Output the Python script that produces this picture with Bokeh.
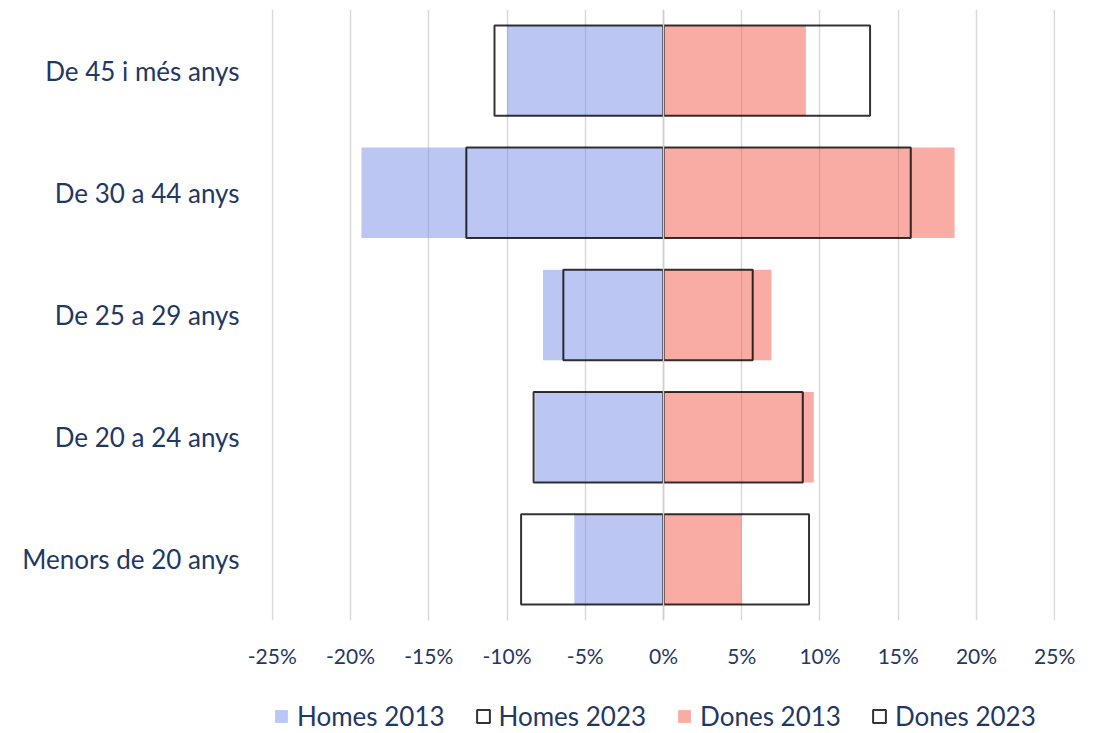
from bokeh.plotting import figure
from bokeh.models import (FactorRange, Range1d, FixedTicker, PrintfTickFormatter,
                          Legend, LegendItem, Span)
from bokeh.layouts import column
from bokeh.embed import file_html
from bokeh.resources import INLINE

categories = ["Menors de 20 anys", "De 20 a 24 anys", "De 25 a 29 anys",
              "De 30 a 44 anys", "De 45 i més anys"]
homes_2013 = [-5.7, -8.2, -7.7, -19.3, -10.0]
homes_2023 = [-9.1, -8.3, -6.4, -12.6, -10.8]
dones_2013 = [5.0, 9.6, 6.9, 18.6, 9.1]
dones_2023 = [9.3, 8.9, 5.7, 15.8, 13.2]
x_ticks = [-25, -20, -15, -10, -5, 0, 5, 10, 15, 20, 25]
series_labels = ["Homes 2013", "Homes 2023", "Dones 2013", "Dones 2023"]

FONT = "Lato"
NAVY = "#1F3864"
W = 1090

BLUE = dict(fill_color="#7790E5", fill_alpha=0.5, line_color=None)
PINK = dict(fill_color="#F15A4A", fill_alpha=0.5, line_color=None)
OUTL = dict(fill_color=None, line_color="black", line_width=2, line_alpha=0.8)

p = figure(width=W, height=697, y_range=FactorRange(*categories),
           x_range=Range1d(-25.05, 25.05), output_backend="svg", toolbar_location=None,
           min_border_left=271, min_border_right=W - 1055, min_border_top=9,
           min_border_bottom=77)
p.outline_line_color = None
p.background_fill_color = "white"

h = 0.74
p.hbar(y=categories, left=0, right=homes_2013, height=h, **BLUE)
p.hbar(y=categories, left=0, right=dones_2013, height=h, **PINK)
p.hbar(y=categories, left=0, right=homes_2023, height=h, **OUTL)
p.hbar(y=categories, left=0, right=dones_2023, height=h, **OUTL)

p.add_layout(Span(location=0, dimension="height", line_color="#CFCFCF",
                  line_width=1.5, level="overlay"))

p.xaxis.ticker = FixedTicker(ticks=x_ticks)
p.xaxis.formatter = PrintfTickFormatter(format="%d%%")
p.xaxis.axis_line_color = None
p.xaxis.major_tick_line_color = None
p.xaxis.minor_tick_line_color = None
p.xaxis.major_label_standoff = 16
p.xaxis.major_label_text_font = FONT
p.xaxis.major_label_text_font_size = "21px"
p.xaxis.major_label_text_color = NAVY

p.yaxis.axis_line_color = None
p.yaxis.major_tick_line_color = None
p.yaxis.minor_tick_line_color = None
p.yaxis.major_label_standoff = 26
p.yaxis.major_label_text_font = FONT
p.yaxis.major_label_text_font_size = "26px"
p.yaxis.major_label_text_color = NAVY

p.xgrid.grid_line_color = "#D9D9D9"
p.xgrid.grid_line_width = 1.5
p.ygrid.grid_line_color = None

# legend strip below the chart (its renderers are hidden; only the key shows)
lg = figure(width=W, height=36, x_range=Range1d(-25, 25),
            y_range=FactorRange(*categories),
            output_backend="svg", toolbar_location=None,
            min_border_left=271, min_border_right=W - 1055,
            min_border_top=0, min_border_bottom=0)
lg.axis.visible = False
lg.grid.visible = False
lg.outline_line_color = None
g1 = lg.hbar(y=categories, left=0, right=homes_2013, height=h, visible=False, **BLUE)
g2 = lg.hbar(y=categories, left=0, right=homes_2023, height=h, visible=False, **OUTL)
g3 = lg.hbar(y=categories, left=0, right=dones_2013, height=h, visible=False, **PINK)
g4 = lg.hbar(y=categories, left=0, right=dones_2023, height=h, visible=False, **OUTL)

legend = Legend(items=[LegendItem(label=lab, renderers=[r])
                       for lab, r in zip(series_labels, [g1, g2, g3, g4])],
                orientation="horizontal", location=(2, 1))
legend.label_text_font = FONT
legend.label_text_font_size = "26px"
legend.label_text_color = NAVY
legend.glyph_width = 16
legend.glyph_height = 16
legend.label_standoff = 8
legend.spacing = 30
legend.border_line_color = None
legend.background_fill_alpha = 0
legend.inactive_fill_alpha = 0
legend.padding = 0
legend.margin = 0
legend.click_policy = "none"
lg.add_layout(legend, "center")

layout = column(p, lg, spacing=0)
open("out.html", "w").write(file_html(layout, INLINE))
